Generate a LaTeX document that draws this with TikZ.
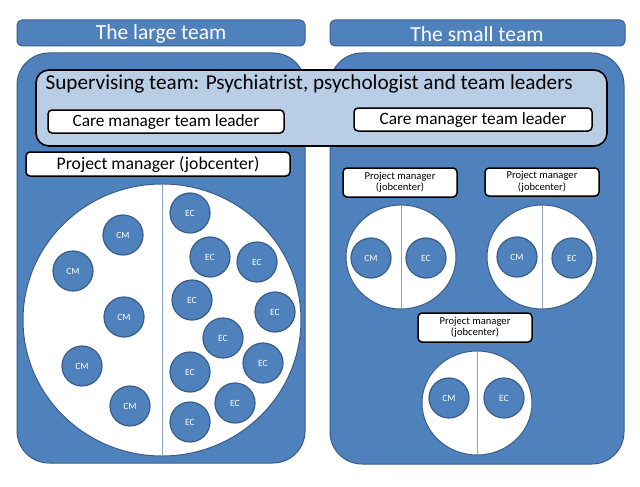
\documentclass[tikz,border=0pt]{standalone}
\usepackage{fontspec}
\setmainfont{Carlito}
\definecolor{bfill}{HTML}{4F81BD}
\definecolor{bdraw}{HTML}{385D8A}
\definecolor{lblue}{HTML}{B9CDE5}
\definecolor{divl}{HTML}{8EA4C0}
\begin{document}
\begin{tikzpicture}[x=1pt,y=-1pt,
  header/.style={draw=bdraw,fill=bfill,rounded corners=5pt,line width=1pt},
  panel/.style={draw=bdraw,fill=bfill,rounded corners=32pt,line width=1pt},
  wbox/.style={draw=black,fill=white,rounded corners=4pt,line width=1.5pt},
  person/.style={circle,draw=bdraw,fill=bfill,line width=1.2pt,minimum size=40pt,inner sep=0pt,text=white,font=\fontsize{9.5}{10}\selectfont},
  wcirc/.style={draw=bdraw,fill=white,line width=1pt},
  divider/.style={draw=divl,line width=1pt},
  pmsmall/.style={font=\fontsize{10.6}{11.5}\selectfont,align=center}
]
\useasboundingbox (0,0) rectangle (640,487);
\fill[white] (0,0) rectangle (640,487);
% headers
\draw[header] (17,20) rectangle (305,46);
\node[text=white,font=\fontsize{21.5}{22}\selectfont] (hl) at (161,34) {The large team};
\draw[header] (330,20) rectangle (625,46);
\node[text=white,font=\fontsize{21.5}{22}\selectfont] (hs) at (477,34) {The small team};
% panels
\draw[panel] (17,53) rectangle (305,463);
\draw[panel] (330,53) rectangle (624,464);
% supervising
\draw[draw=black,fill=lblue,rounded corners=13pt,line width=1.6pt] (36,70) rectangle (607,146);
\node[anchor=west,font=\fontsize{21.2}{22}\selectfont] (sup) at (42,84) {Supervising team: Psychiatrist, psychologist and team leaders};
\draw[wbox] (48,110) rectangle (284,133);
\node[font=\fontsize{17.3}{18}\selectfont] (cl1) at (166,122) {Care manager team leader};
\draw[wbox] (354,108) rectangle (592,131);
\node[font=\fontsize{17.3}{18}\selectfont] (cl2) at (473,120) {Care manager team leader};
% large team
\draw[wbox] (26,152) rectangle (290,176);
\node[font=\fontsize{17.7}{18}\selectfont] (pml) at (158,164.5) {Project manager (jobcenter)};
\draw[wcirc] (162,320) ellipse [x radius=139, y radius=136];
\draw[divider] (162,184) -- (162,456);
\foreach \n/\x/\y in {a/123/235, b/73/271, c/124/317, d/82/366, e/130/406}
  \node[person] (cm\n) at (\x,\y) {CM};
\foreach \n/\x/\y in {a/190/213, b/210/257, c/257/262, d/192/300, e/275/312, f/223/338, g/190/372, h/263/363, i/235/403, j/190/422}
  \node[person] (ec\n) at (\x,\y) {EC};
% small team
\draw[wbox] (343,168) rectangle (457,197);
\node[pmsmall] (pm1) at (400,182.5) {Project manager\\(jobcenter)};
\draw[wbox] (485,168) rectangle (599,196);
\node[pmsmall] (pm2) at (542,182) {Project manager\\(jobcenter)};
\draw[wbox] (418,313) rectangle (532,342);
\node[pmsmall] (pm3) at (475,327.5) {Project manager\\(jobcenter)};
\draw[wcirc] (401,257) ellipse [x radius=55, y radius=52];
\draw[divider] (401,205) -- (401,309);
\node[person] (cm1) at (371,258) {CM};
\node[person] (ec1) at (426,258) {EC};
\draw[wcirc] (542,257) ellipse [x radius=55, y radius=52];
\draw[divider] (542,205) -- (542,309);
\node[person] (cm2) at (517,257) {CM};
\node[person] (ec2) at (572,258) {EC};
\draw[wcirc] (477,403) ellipse [x radius=55, y radius=52];
\draw[divider] (477,351) -- (477,455);
\node[person] (cm3) at (449,398) {CM};
\node[person] (ec3) at (504,398) {EC};
\end{tikzpicture}
\end{document}
